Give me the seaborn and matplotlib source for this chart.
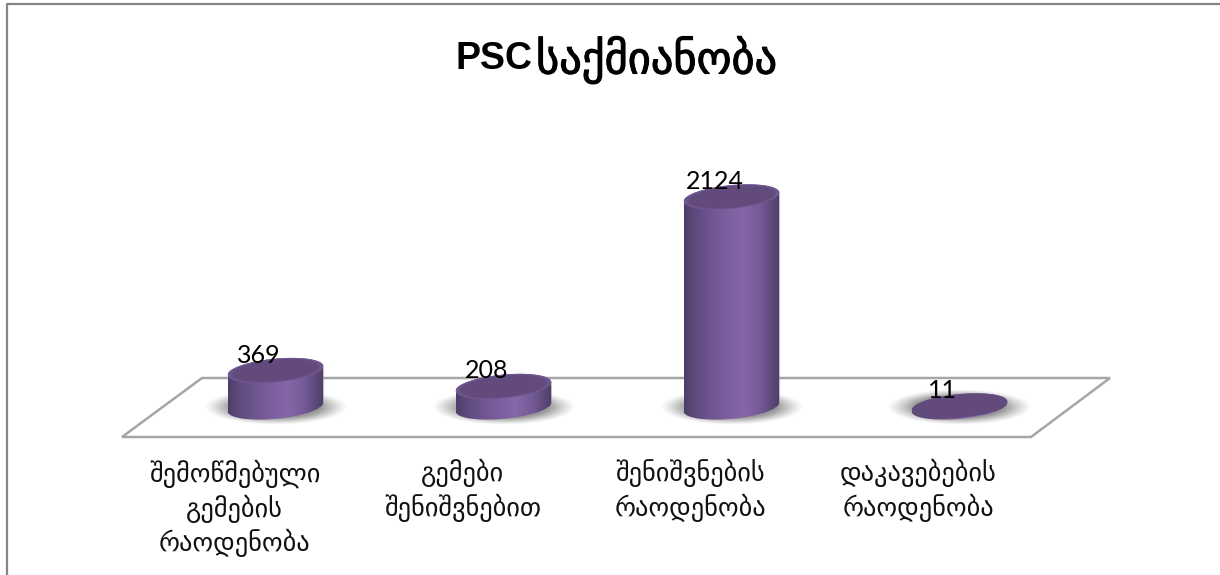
import numpy as np
import matplotlib
matplotlib.use("Agg")
import matplotlib.pyplot as plt
import matplotlib.patheffects as pe
import seaborn as sns
from matplotlib.colors import LinearSegmentedColormap, to_rgb
from matplotlib.lines import Line2D
from matplotlib.patches import Polygon
from matplotlib.transforms import ScaledTranslation

categories = ["შემოწმებული\nგემების\nრაოდენობა", "გემები\nშენიშვნებით",
              "შენიშვნების\nრაოდენობა", "დაკავებების\nრაოდენობა"]
values = [369, 208, 2124, 11]
title_latin = "PSC"
title_georgian = "საქმიანობა"

W, H = 1220, 575
sns.set_theme(style="white")
plt.rcParams["font.family"] = ["Lato", "DejaVu Sans"]

fig = plt.figure(figsize=(W / 100, H / 100), dpi=100, facecolor="white")

# axes frame in pixels
L, R, T, B = 122, 1110, 130, 437
ax = fig.add_axes([L / W, 1 - B / H, (R - L) / W, (B - T) / H])
ax.patch.set_alpha(0)
ax.set_zorder(2)

SX = 228.0     # px per category
SY = 0.0989    # px per unit
X0 = 275.5     # px of first category
Y0 = 407.0     # px of value zero

BODY = "#6f5690"
sns.barplot(x=categories, y=values, ax=ax, width=95 / SX, color=BODY, saturation=1, zorder=3)
ax.set_xlim((L - X0) / SX, (R - X0) / SX)
ax.set_ylim((Y0 - B) / SY, (Y0 - T) / SY)
xlim, ylim = ax.get_xlim(), ax.get_ylim()


def figpx(x, y):
    return (x / W, 1 - y / H)


# outer chart border (left and top only are inside the crop)
edge = "#868686"
border_x = [7, 7, W + 5]
border_y = [H + 5, 4, 4]
fig.add_artist(Line2D([x / W for x in border_x], [1 - y / H for y in border_y],
                      color=edge, lw=1.6, transform=fig.transFigure, zorder=1))

# floor plane
plane = [figpx(122, 437), figpx(1031, 437), figpx(1110, 378), figpx(202, 378)]
fig.add_artist(Polygon(plane, closed=True, fill=False, edgecolor="#a6a6a6", lw=1.8,
                       transform=fig.transFigure, zorder=1))

A, BB = 48.0, 11.8
TH = np.deg2rad(5.5)


def ell(t, k=1.0):
    return (k * (A * np.cos(t) * np.cos(TH) - BB * np.sin(t) * np.sin(TH)),
            k * (A * np.cos(t) * np.sin(TH) + BB * np.sin(t) * np.cos(TH)))


cmap = LinearSegmentedColormap.from_list("cyl", [
    (0.00, "#4d3e69"), (0.12, "#5f4b7f"), (0.35, "#745a97"),
    (0.62, "#8667a9"), (0.80, "#745a96"), (0.93, "#5a4876"), (1.00, "#4d3f66")])

gx = np.linspace(-1, 1, 160)
gy = np.linspace(-1, 1, 80)
XX, YY = np.meshgrid(gx, gy)
rr = np.sqrt(XX ** 2 + YY ** 2)
shadow = np.zeros(rr.shape + (4,))
shadow[..., :3] = 0.5
shadow[..., 3] = np.clip((1 - rr) / 0.38, 0, 1) ** 1.2 * 0.8

rim_col = np.array(to_rgb("#755b99"))
top_col = np.array(to_rgb("#624b7c"))

for bar, val in zip(ax.patches, values):
    cx = bar.get_x() + bar.get_width() / 2
    h = bar.get_height()

    # soft shadow on the floor
    ax.imshow(shadow, extent=(cx - 72 / SX, cx + 72 / SX, -18 / SY, 18 / SY),
              aspect="auto", zorder=2, interpolation="bilinear")

    t1 = np.linspace(np.pi, 2 * np.pi, 80)
    t2 = np.linspace(0, np.pi, 80)
    bx, by = ell(t1)
    ux, uy = ell(t2)
    body = np.vstack([np.c_[cx + bx / SX, by / SY], np.c_[cx + ux / SX, h + uy / SY]])
    clip = Polygon(body, closed=True, transform=ax.transData)
    bar.set_clip_path(clip)

    im = ax.imshow(np.linspace(0, 1, 200)[None, :], cmap=cmap, vmin=0, vmax=1,
                   extent=(cx - A / SX, cx + A / SX, -15 / SY, h + 15 / SY),
                   aspect="auto", zorder=3.5, interpolation="bilinear")
    im.set_clip_path(clip)

    # top face: soft lighter rim fading into the flat centre
    ta = np.linspace(0, 2 * np.pi, 160)
    steps = [(1.0, 1.0), (0.97, 0.7), (0.94, 0.4), (0.91, 0.15), (0.88, 0.0)] if h > 100 else [(1.0, 0.0)]
    for k, mix in steps:
        tx, ty = ell(ta, k)
        c = top_col * (1 - mix) + rim_col * mix
        ax.add_patch(Polygon(np.c_[cx + tx / SX, h + ty / SY], closed=True,
                             facecolor=c, edgecolor="none", zorder=4))

    # value label
    ax.annotate(str(val), (cx, h), xytext=(-17 * 0.72, 15.5 * 0.72),
                textcoords="offset points", ha="center", va="center",
                fontsize=18, color="black", zorder=6)

ax.set_xlim(xlim)
ax.set_ylim(ylim)

ax.set_ylabel("")
ax.set_yticks([])
for s in ax.spines.values():
    s.set_visible(False)
ax.set_xticks(range(len(categories)))
ax.set_xticklabels(categories, fontsize=19, color="#111111", linespacing=1.3)
ax.tick_params(axis="x", length=0, pad=16)
offset = ScaledTranslation(-41 / 100, 0, fig.dpi_scale_trans)
for lab in ax.get_xticklabels():
    lab.set_transform(lab.get_transform() + offset)
    lab.set_va("top")

fig.text(456 / W, 1 - 59 / H, title_latin, ha="left", va="center", fontsize=27,
         fontweight="bold", color="black", family="Liberation Sans")
fig.text(536 / W, 1 - 60 / H, title_georgian, ha="left", va="center", fontsize=32,
         color="black", family="DejaVu Sans",
         path_effects=[pe.withStroke(linewidth=0.8, foreground="black")])

fig.savefig("out.png", dpi=100, facecolor="white")
